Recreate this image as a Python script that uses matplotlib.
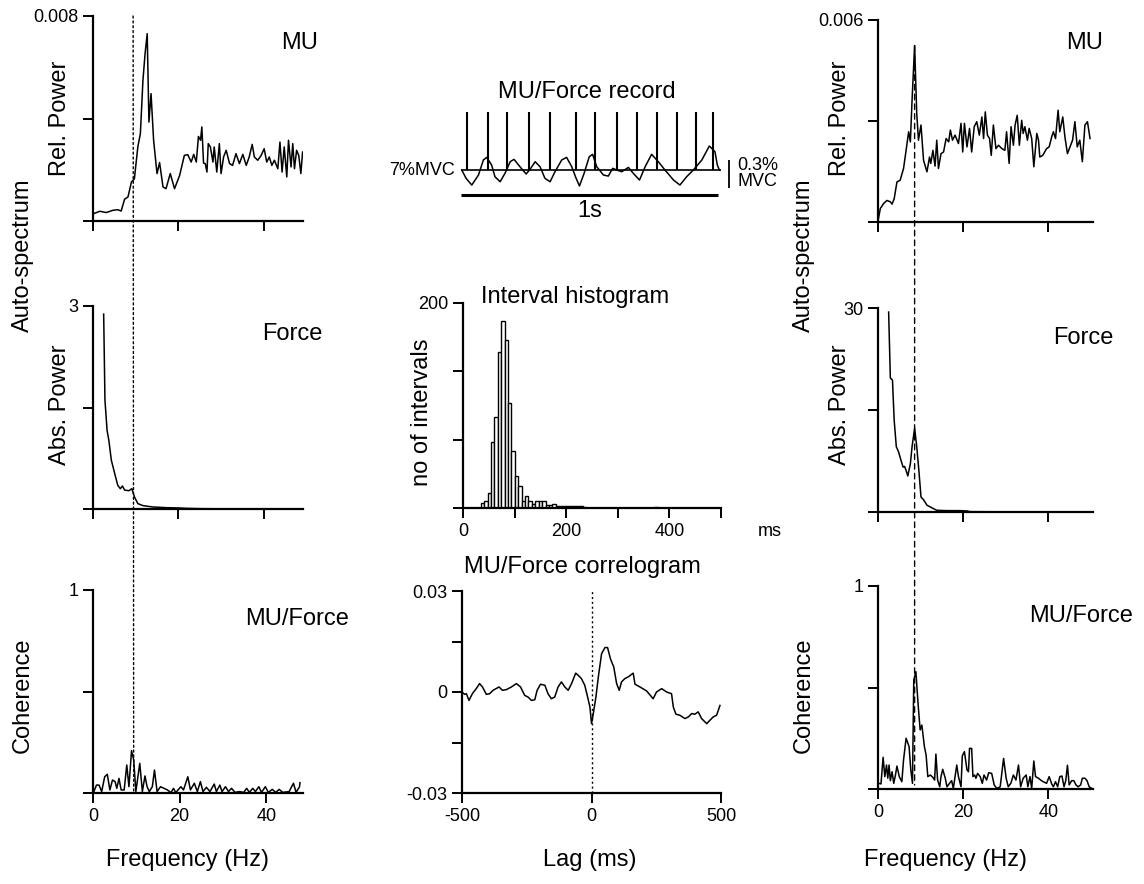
import numpy as np
import matplotlib
matplotlib.use("Agg")
import matplotlib.pyplot as plt
from matplotlib.patches import ConnectionPatch

plt.rcParams['font.family'] = ['Liberation Sans', 'DejaVu Sans']

# ---- left column (unit 1) ----
l_mu_f = [0.2, 1.6, 3.1, 4.7, 5.8, 6.6, 7.4, 8.2, 9.0, 9.7, 10.5, 11.1, 11.7, 12.2, 12.7, 13.1,
          13.6, 14.2, 15.0, 15.6, 16.4, 17.1, 18.1, 19.1, 20.3, 21.4, 22.2, 23.0, 23.6, 24.2,
          24.7, 25.2, 25.5, 25.9, 26.3, 26.7, 27.0, 27.5, 28.1, 28.4, 29.0, 29.6, 30.0, 30.6,
          31.2, 32.0, 32.7, 33.5, 34.3, 35.1, 35.9, 36.6, 37.3, 37.8, 38.6, 39.4, 40.1, 40.7,
          41.3, 41.9, 42.5, 43.3, 43.8, 44.3, 44.8, 45.4, 45.8, 46.4, 46.8, 47.2, 47.7, 48.2,
          48.7, 49.1]
l_mu_p = [0.00029, 0.00038, 0.00033, 0.00042, 0.00044, 0.00039, 0.00085, 0.00094, 0.00152,
          0.00165, 0.00289, 0.00341, 0.00549, 0.00653, 0.00731, 0.00386, 0.00497, 0.00315,
          0.00185, 0.00228, 0.00133, 0.00126, 0.00185, 0.00126, 0.00178, 0.00256, 0.00259,
          0.0023, 0.0026, 0.0023, 0.0033, 0.00315, 0.00367, 0.00226, 0.00224, 0.00191, 0.00302,
          0.00289, 0.0023, 0.00289, 0.00191, 0.00302, 0.00185, 0.0025, 0.00276, 0.00224,
          0.00217, 0.00263, 0.00224, 0.0026, 0.00217, 0.0025, 0.00299, 0.0025, 0.00237,
          0.00256, 0.00282, 0.0023, 0.0025, 0.00217, 0.00237, 0.00204, 0.00308, 0.00191,
          0.00289, 0.00172, 0.00315, 0.00211, 0.00302, 0.00204, 0.00276, 0.00256, 0.00185,
          0.00269]

l_force_f = [2.5, 2.8, 3.3, 3.7, 4.3, 5.1, 5.8, 6.4, 6.9, 7.4, 8.4, 9.1, 9.7, 10.5, 11.7, 14.0,
             17.1, 20.3, 21.8, 25, 30, 35, 40, 45, 49]
l_force_p = [2.88, 1.61, 1.16, 1.02, 0.72, 0.52, 0.35, 0.30, 0.34, 0.28, 0.27, 0.30, 0.18, 0.08,
             0.05, 0.03, 0.02, 0.015, 0.01, 0.005, 0.003, 0.002, 0.002, 0.002, 0.002]

l_coh_f = [0.2, 0.8, 1.4, 2.0, 2.7, 3.3, 3.9, 4.5, 5.1, 5.5, 6.0, 6.5, 7.2, 7.8, 8.3, 8.9, 9.4,
           9.9, 10.8, 11.4, 12.0, 12.5, 13.0, 13.7, 14.2, 14.8, 15.6, 16.4, 17.2, 18.0, 18.6,
           19.1, 20.3, 20.9, 21.9, 22.5, 23.4, 24.1, 24.8, 25.4, 26.2, 27.0, 28.0, 28.5, 29.3,
           29.8, 30.6, 31.3, 32.0, 32.8, 33.8, 34.8, 35.5, 36.1, 36.9, 37.5, 38.3, 38.9, 39.8,
           40.5, 41.4, 42.2, 43.0, 43.8, 45.3, 46.3, 46.9, 47.7, 47.8]
l_coh = [0.007, 0.039, 0.039, 0.007, 0.080, 0.092, 0.015, 0.064, 0.056, 0.023, 0.072, 0.015,
         0.015, 0.138, 0.031, 0.209, 0.163, 0.007, 0.146, 0.007, 0.084, 0.031, 0.007, 0.031,
         0.113, 0.007, 0.031, 0.023, 0.015, 0.002, 0.023, 0.002, 0.031, 0.015, 0.080, 0.015,
         0.048, 0.007, 0.056, 0.007, 0.028, 0.007, 0.044, 0.007, 0.039, 0.007, 0.031, 0.007,
         0.023, 0.003, 0.007, 0.003, 0.023, 0.003, 0.023, 0.007, 0.031, 0.003, 0.031, 0.003,
         0.018, 0.003, 0.018, 0.003, 0.007, 0.048, 0.003, 0.031, 0.051]
l_peak_hz = 9.4

# ---- middle column ----
spike_times = [0.023, 0.105, 0.179, 0.266, 0.347, 0.448, 0.522, 0.606, 0.686, 0.763, 0.841,
               0.912, 0.981]
force_t = [0.004, 0.021, 0.043, 0.069, 0.088, 0.101, 0.120, 0.133, 0.153, 0.172, 0.192, 0.207,
           0.230, 0.254, 0.269, 0.289, 0.308, 0.327, 0.347, 0.366, 0.392, 0.411, 0.431, 0.448,
           0.461, 0.479, 0.499, 0.512, 0.528, 0.554, 0.573, 0.590, 0.606, 0.625, 0.651, 0.670,
           0.694, 0.716, 0.741, 0.767, 0.793, 0.826, 0.851, 0.877, 0.903, 0.936, 0.965, 0.987,
           0.996, 1.004]
force_dev = [0.0, -0.088, -0.159, -0.053, 0.106, 0.134, 0.053, -0.071, -0.124, -0.035, 0.088,
             0.113, 0.035, -0.042, 0.007, 0.088, 0.035, -0.088, -0.124, -0.018, 0.106, 0.134,
             0.035, -0.088, -0.169, -0.035, 0.141, 0.166, 0.035, -0.053, -0.064, 0.018, 0.0,
             -0.018, 0.028, -0.035, -0.106, 0.035, 0.166, 0.088, 0.0, -0.106, -0.159, -0.071,
             0.0, 0.106, 0.254, 0.194, 0.053, 0.0]

hist_start = 34.5
hist_width = 6.6
hist_counts = [5, 7, 15, 64, 89, 152, 182, 164, 102, 56, 31, 21, 7, 12, 7, 4, 7, 7, 7, 3, 3, 4,
               2, 2, 2, 2, 2, 2, 2, 2, 1, 0, 0, 0, 0, 0, 0, 0, 0, 0, 0, 0, 0, 0, 0, 0, 0, 0, 0,
               0, 0, 1]

lag_ms = [-500, -490, -483, -473, -460, -445, -432, -421, -406, -393, -380, -357, -344, -329,
          -309, -290, -274, -258, -245, -232, -219, -210, -197, -180, -168, -155, -142, -129,
          -116, -103, -90, -77, -61, -52, -39, -26, -15, -6, 0, 6, 17, 28, 39, 52, 62, 73, 86,
          97, 107, 116, 129, 142, 161, 168, 187, 213, 238, 251, 271, 290, 309, 316, 326, 341,
          361, 374, 387, 399, 412, 425, 445, 457, 470, 483, 496]
corr = [0.0, -0.0007, -0.0005, -0.0025, -0.0005, 0.001, 0.0025, 0.0015, -0.0007, -0.0005,
        0.0005, 0.0015, 0.0005, 0.0007, 0.0015, 0.0025, 0.0015, -0.001, -0.0015, -0.0025,
        -0.0023, 0.0005, 0.0023, 0.002, -0.0005, -0.002, -0.0015, 0.0015, 0.003, 0.0015,
        0.0005, 0.0025, 0.0056, 0.005, 0.004, 0.002, -0.0015, -0.0045, -0.0094, -0.0069,
        -0.0015, 0.0054, 0.0114, 0.0132, 0.0132, 0.0099, 0.0074, 0.0025, 0.0005, 0.003, 0.004,
        0.0045, 0.0056, 0.0023, 0.0015, 0.0003, -0.002, 0.0, 0.001, 0.0, -0.0005, -0.0045,
        -0.0066, -0.0069, -0.0079, -0.0074, -0.0064, -0.0066, -0.0059, -0.0079, -0.0094,
        -0.0084, -0.0074, -0.0069, -0.004]

# ---- right column (unit 2) ----
r_mu_f = [0, 0.55, 1.33, 2.1, 2.9, 3.3, 3.8, 4.45, 5.2, 6.0, 6.6, 7.2, 7.6, 8.0, 8.6, 9.1, 9.5,
          10.1, 10.7, 11.5, 12.1, 12.4, 12.9, 13.4, 13.8, 14.2, 14.8, 15.4, 16.0, 16.6, 17.0,
          17.5, 18.1, 18.9, 19.5, 19.9, 20.3, 20.9, 21.5, 22.0, 22.6, 23.2, 23.8, 24.4, 24.8,
          25.2, 25.7, 26.2, 26.6, 27.1, 27.7, 28.3, 29.1, 29.8, 30.2, 30.8, 31.25, 31.8, 32.2,
          32.7, 33.2, 33.75, 34.1, 34.5, 35.1, 35.5, 36.1, 36.6, 37.3, 37.7, 38.0, 38.7, 39.6,
          40.2, 40.8, 41.2, 41.7, 42.3, 42.7, 43.4, 43.9, 44.5, 45.1, 45.7, 46.25, 46.8, 47.4,
          48.0, 48.6, 49.2, 49.8]
r_mu_p = [0.00003, 0.0004, 0.00055, 0.00064, 0.0006, 0.00053, 0.00069, 0.00119, 0.00124,
          0.00159, 0.00213, 0.00268, 0.00238, 0.00362, 0.00524, 0.00322, 0.00243, 0.00288,
          0.00183, 0.00149, 0.00193, 0.00174, 0.00213, 0.00166, 0.00243, 0.00159, 0.00203,
          0.00208, 0.00248, 0.00238, 0.00273, 0.00243, 0.00258, 0.00233, 0.00293, 0.00208,
          0.00293, 0.00223, 0.00278, 0.00208, 0.00283, 0.00298, 0.00258, 0.00312, 0.00248,
          0.00327, 0.00258, 0.00248, 0.00198, 0.00288, 0.00218, 0.00228, 0.00218, 0.00213,
          0.00268, 0.00174, 0.00283, 0.00228, 0.00288, 0.00317, 0.00228, 0.00302, 0.00263,
          0.00283, 0.00243, 0.00278, 0.00248, 0.00164, 0.00263, 0.00243, 0.00193, 0.00198,
          0.00218, 0.00223, 0.00253, 0.00268, 0.00248, 0.00332, 0.00268, 0.00312, 0.00253,
          0.00203, 0.00223, 0.00243, 0.00298, 0.00223, 0.00243, 0.00179, 0.00288, 0.00298,
          0.00248]

r_force_f = [2.5, 2.9, 3.4, 3.8, 4.3, 4.8, 5.4, 5.9, 6.25, 6.6, 7.0, 7.6, 8.0, 8.6, 9.1, 9.6,
             10.1, 10.7, 11.5, 12.7, 13.8, 16.2, 19.3, 20.9, 21.6, 30, 40, 50]
r_force_p = [29.4, 19.7, 19.4, 13.5, 9.6, 8.9, 7.6, 6.6, 6.7, 6.1, 5.3, 7.1, 9.6, 12.3, 9.6, 6.1,
             2.2, 1.8, 1.0, 0.6, 0.25, 0.2, 0.2, 0.15, 0.05, 0.02, 0.02, 0.02]

r_coh_f = [0.16, 0.7, 1.2, 1.6, 2.0, 2.3, 2.6, 2.9, 3.3, 3.7, 4.1, 4.45, 5.0, 5.6, 6.0, 6.6, 7.3,
           7.7, 8.1, 8.4, 8.9, 9.4, 9.9, 10.3, 10.9, 11.3, 11.7, 12.3, 12.9, 13.3, 13.6, 14.0,
           14.5, 14.8, 15.2, 15.8, 16.2, 16.8, 17.3, 17.7, 18.1, 18.5, 18.9, 19.5, 19.8, 20.3,
           20.9, 21.25, 21.5, 22.0, 22.3, 22.7, 23.0, 23.4, 24.0, 24.5, 24.9, 25.5, 26.0, 26.7,
           27.3, 27.9, 28.7, 29.5, 30.1, 30.6, 31.2, 31.8, 32.4, 33.0, 33.5, 34.1, 34.8, 35.2,
           35.7, 36.1, 36.6, 37.0, 37.7, 38.2, 38.8, 39.6, 40.2, 40.8, 41.2, 41.7, 42.2, 42.7,
           43.2, 43.7, 44.1, 44.5, 44.9, 45.5, 46.0, 46.5, 47.0, 47.6, 48.0, 48.6, 49.1, 49.6,
           50.2]
r_coh = [0.028, 0.025, 0.156, 0.061, 0.118, 0.053, 0.118, 0.041, 0.085, 0.028, 0.069, 0.113,
         0.061, 0.036, 0.143, 0.25, 0.209, 0.094, 0.028, 0.537, 0.578, 0.422, 0.291, 0.315,
         0.209, 0.167, 0.061, 0.069, 0.057, 0.044, 0.172, 0.044, 0.011, 0.061, 0.097, 0.053,
         0.011, 0.028, 0.041, 0.003, 0.061, 0.118, 0.061, 0.011, 0.163, 0.184, 0.094, 0.085,
         0.2, 0.2, 0.061, 0.069, 0.053, 0.077, 0.061, 0.028, 0.069, 0.044, 0.08, 0.077, 0.02,
         0.003, 0.011, 0.151, 0.053, 0.011, 0.028, 0.069, 0.044, 0.118, 0.011, 0.053, 0.069,
         0.011, 0.061, 0.003, 0.138, 0.061, 0.053, 0.044, 0.036, 0.028, 0.061, 0.025, 0.011,
         0.036, 0.011, 0.061, 0.064, 0.011, 0.041, 0.117, 0.02, 0.041, 0.041, 0.02, 0.011, 0.02,
         0.053, 0.053, 0.041, 0.011, 0.003]
r_peak_hz = 8.6

W, H = 1144, 884
fig = plt.figure(figsize=(W / 100, H / 100), dpi=100)


def px_axes(x0, y0, x1, y1):
    return fig.add_axes([x0 / W, 1 - y1 / H, (x1 - x0) / W, (y1 - y0) / H])


def ftext(x, y, s, **kw):
    fig.text(x / W, 1 - y / H, s, **kw)


def style(ax):
    for side in ['top', 'right']:
        ax.spines[side].set_visible(False)
    for side in ['left', 'bottom']:
        ax.spines[side].set_linewidth(1.6)
    ax.tick_params(direction='out', length=7, width=1.4, labelsize=13)


def spectrum(ax, f, p, ymax, top_label, xmax, xlabels):
    ax.plot(f, p, color='black', lw=1.1)
    ax.set_xlim(0, xmax)
    ax.set_ylim(0, ymax)
    ax.set_xticks([0, 20, 40])
    ax.set_xticklabels(['0', '20', '40'] if xlabels else [])
    ax.set_yticks([0, ymax / 2, ymax])
    ax.set_yticklabels(['', '', top_label])
    style(ax)


# left column
axl1 = px_axes(93, 16, 303, 221)
axl2 = px_axes(93, 306, 303, 509)
axl3 = px_axes(93, 590, 303, 793)
spectrum(axl1, l_mu_f, l_mu_p, 0.008, '0.008', 49.2, False)
spectrum(axl2, l_force_f, l_force_p, 3, '3', 49.2, False)
spectrum(axl3, l_coh_f, l_coh, 1, '1', 48.5, True)

# right column
axr1 = px_axes(878, 20, 1093, 222)
axr2 = px_axes(878, 308, 1093, 512)
axr3 = px_axes(878, 586, 1093, 789)
spectrum(axr1, r_mu_f, r_mu_p, 0.006, '0.006', 50.5, False)
spectrum(axr2, r_force_f, r_force_p, 30, '30', 50.5, False)
spectrum(axr3, r_coh_f, r_coh, 1, '1', 50.5, True)

# vertical reference lines through columns
con = ConnectionPatch(xyA=(l_peak_hz, 0.008), coordsA=axl1.transData,
                      xyB=(l_peak_hz, 0), coordsB=axl3.transData,
                      color='black', lw=1.0, linestyle=(0, (1.5, 2)))
fig.add_artist(con)
con = ConnectionPatch(xyA=(r_peak_hz, max(r_mu_p)), coordsA=axr1.transData,
                      xyB=(r_peak_hz, 0.02), coordsB=axr3.transData,
                      color='black', lw=1.0, linestyle=(0, (4, 3)))
fig.add_artist(con)

# MU/Force record
axrec = px_axes(395, 80, 800, 225)
axrec.set_xlim(-0.255, 1.317)
axrec.set_ylim(-0.582, 0.953)
axrec.axis('off')
spike_h = 0.618
axrec.vlines(spike_times, 0, spike_h, color='black', lw=1.5)
axrec.hlines(0, 0, 1.01, color='black', lw=1.2)
axrec.plot(force_t, force_dev, color='black', lw=1.1)
axrec.hlines(-0.265, 0, 1.0, color='black', lw=2.2)
axrec.vlines(1.043, -0.194, 0.106, color='black', lw=1.3)
axrec.text(-0.022, 0, '7%MVC', ha='right', va='center', fontsize=13)
axrec.text(1.075, -0.04, '0.3%\nMVC', ha='left', va='center', fontsize=13, linespacing=0.95)
axrec.text(0.5, -0.43, '1s', ha='center', va='center', fontsize=17)
axrec.text(0.49, 0.826, 'MU/Force record', ha='center', va='center', fontsize=17)

# interval histogram
axh = px_axes(463, 303, 721, 508)
edges = hist_start + hist_width * np.arange(len(hist_counts))
axh.bar(edges, hist_counts, width=hist_width, align='edge', facecolor='white',
        edgecolor='black', lw=1.0)
axh.set_xlim(0, 500)
axh.set_ylim(0, 200)
axh.set_xticks([0, 100, 200, 300, 400, 500])
axh.set_xticklabels(['0', '', '200', '', '400', ''])
axh.set_yticks([0, 200 / 3, 400 / 3, 200])
axh.set_yticklabels(['', '', '', '200'])
style(axh)

# correlogram
axc = px_axes(462, 591, 721, 793)
axc.plot(lag_ms, corr, color='black', lw=1.1)
axc.axvline(0, color='black', lw=1.0, linestyle=(0, (1.5, 2)))
axc.set_xlim(-500, 500)
axc.set_ylim(-0.03, 0.03)
axc.set_xticks([-500, 0, 500])
axc.set_xticklabels(['-500', '0', '500'])
axc.set_yticks([-0.03, -0.015, 0, 0.015, 0.03])
axc.set_yticklabels(['-0.03', '', '0', '', '0.03'])
style(axc)

# labels
big = 17
for x in (23, 804):
    ftext(x, 255, 'Auto-spectrum', rotation=90, ha='center', va='center', fontsize=big)
    ftext(x, 695, 'Coherence', rotation=90, ha='center', va='center', fontsize=big)
for x in (60, 840):
    ftext(x, 118, 'Rel. Power', rotation=90, ha='center', va='center', fontsize=big)
    ftext(x, 405, 'Abs. Power', rotation=90, ha='center', va='center', fontsize=big)
ftext(422, 412, 'no of intervals', rotation=90, ha='center', va='center', fontsize=big)

ftext(187, 860, 'Frequency (Hz)', ha='center', va='center', fontsize=big)
ftext(945, 860, 'Frequency (Hz)', ha='center', va='center', fontsize=big)
ftext(590, 860, 'Lag (ms)', ha='center', va='center', fontsize=big)

ftext(300, 43, 'MU', ha='center', va='center', fontsize=big)
ftext(1085, 43, 'MU', ha='center', va='center', fontsize=big)
ftext(292, 334, 'Force', ha='center', va='center', fontsize=big)
ftext(1083, 338, 'Force', ha='center', va='center', fontsize=big)
ftext(297, 619, 'MU/Force', ha='center', va='center', fontsize=big)
ftext(1081, 616, 'MU/Force', ha='center', va='center', fontsize=big)

ftext(575, 297, 'Interval histogram', ha='center', va='center', fontsize=big)
ftext(582, 567, 'MU/Force correlogram', ha='center', va='center', fontsize=big)
ftext(770, 532, 'ms', ha='center', va='center', fontsize=13)

fig.savefig('out.png', dpi=100)
